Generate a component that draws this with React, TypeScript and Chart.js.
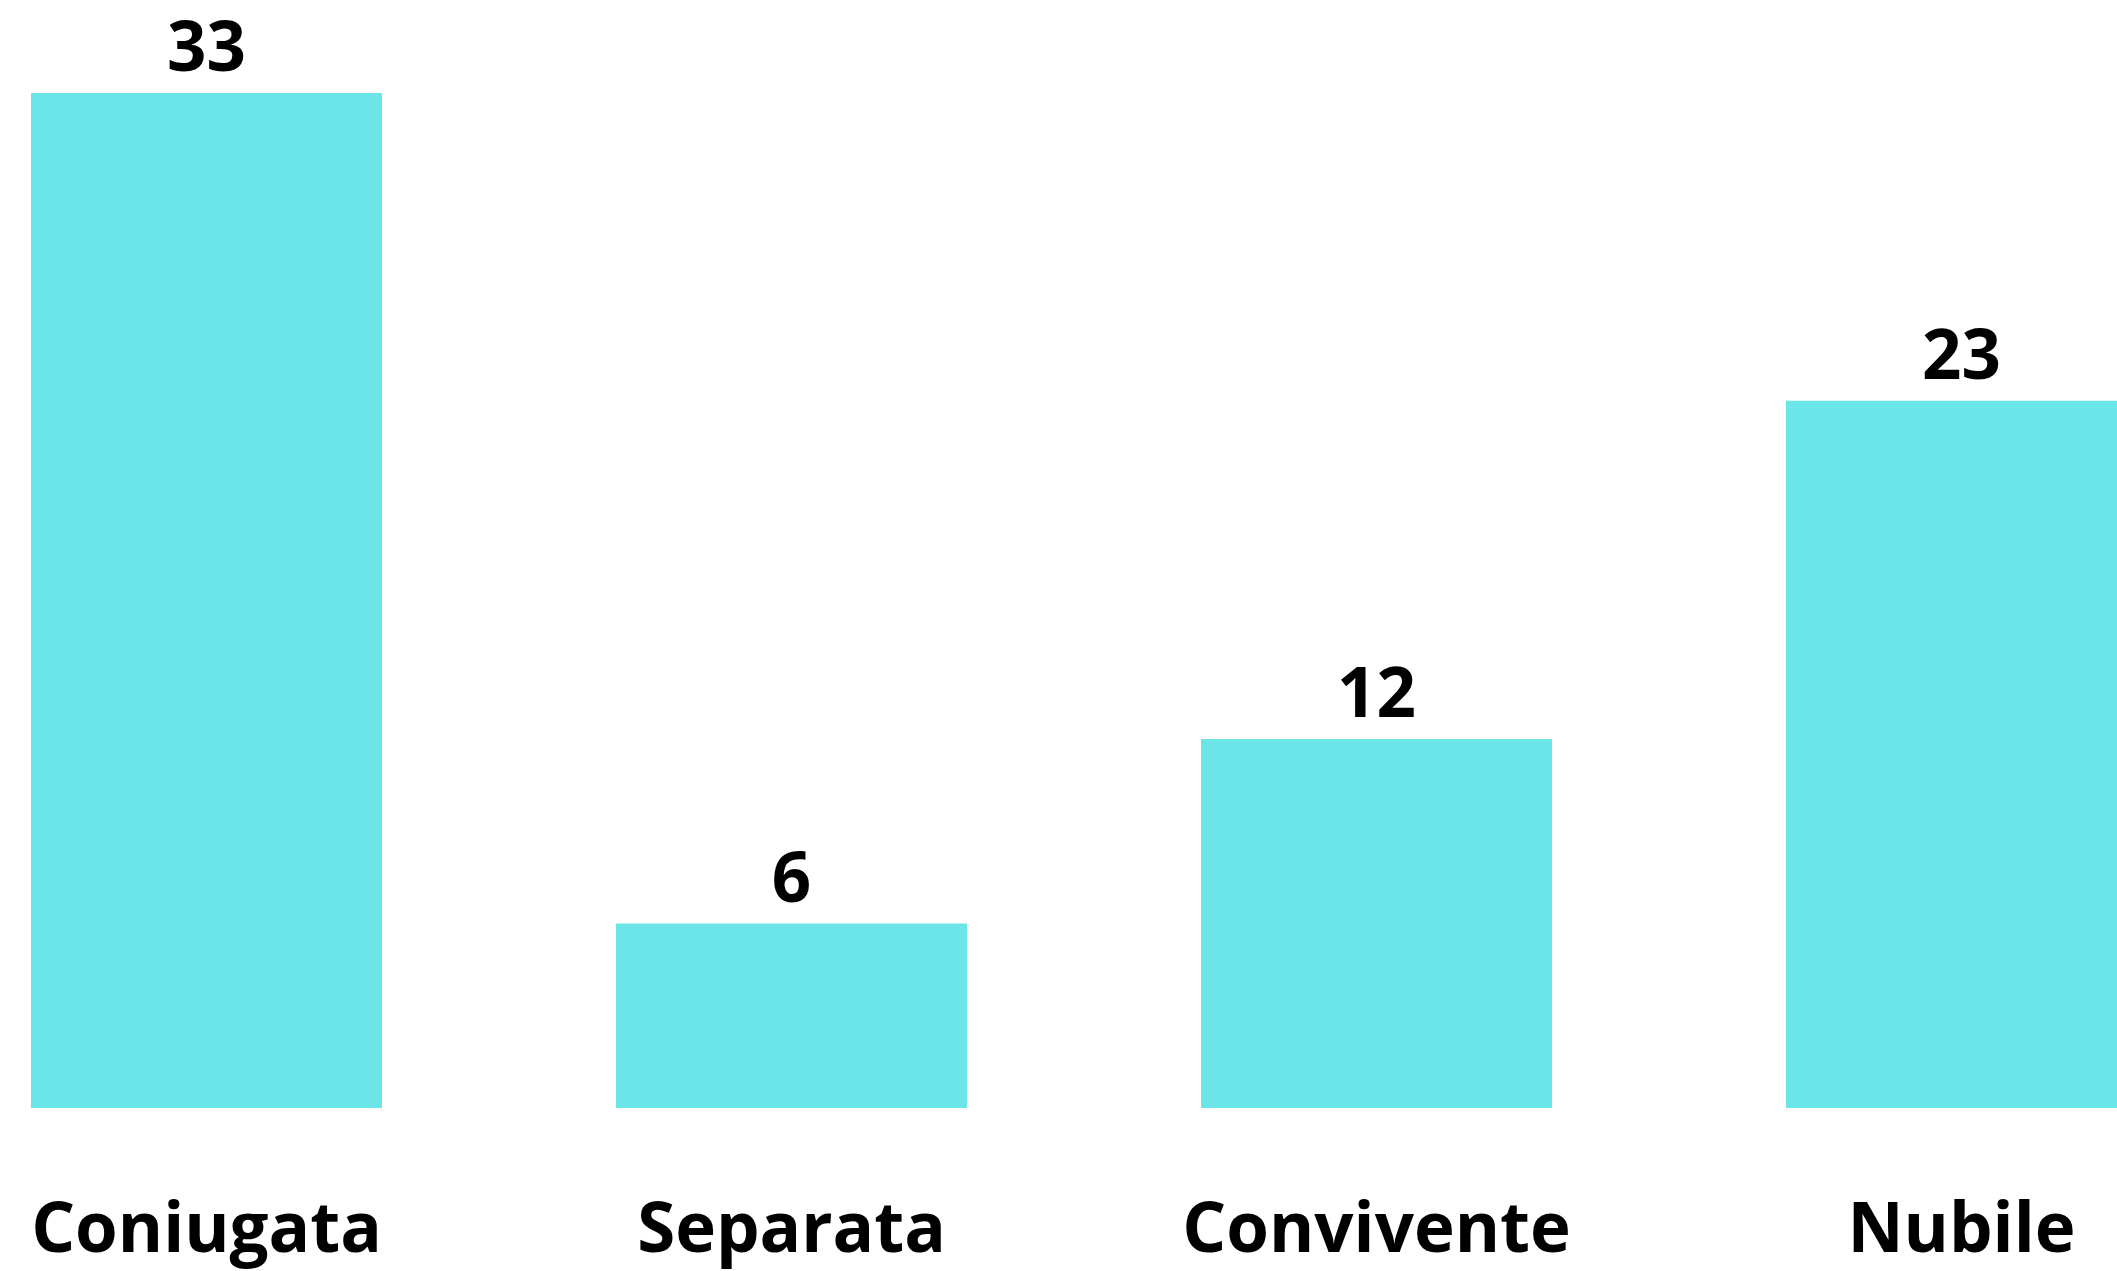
import React, { useEffect, useRef } from "react";
import { Chart, registerables } from "chart.js";

Chart.register(...registerables);

const categories = ["Coniugata", "Separata", "Convivente", "Nubile"];
const values = [33, 6, 12, 23];
const barColor = "#6ce5e8";

const valueLabels = {
  id: "valueLabels",
  afterDatasetsDraw(chart: any) {
    const ctx = chart.ctx;
    const meta = chart.getDatasetMeta(0);
    ctx.save();
    ctx.font = "700 69px 'Open Sans'";
    ctx.fillStyle = "#000";
    ctx.textAlign = "center";
    ctx.textBaseline = "alphabetic";
    meta.data.forEach((bar: any, i: number) => {
      ctx.fillText(String(values[i]), bar.x, bar.y - 22);
    });
    ctx.restore();
  },
};

export default function App() {
  const ref = useRef<HTMLCanvasElement>(null);
  useEffect(() => {
    if (!ref.current) return;
    const chart = new Chart(ref.current, {
      type: "bar",
      data: {
        labels: categories,
        datasets: [
          {
            data: values,
            backgroundColor: barColor,
            borderWidth: 0,
            barPercentage: 0.6,
            categoryPercentage: 1.0,
          },
        ],
      },
      options: {
        animation: false,
        responsive: false,
        layout: { padding: { top: 93, left: 0, right: 0, bottom: 0 } },
        plugins: { legend: { display: false }, tooltip: { enabled: false } },
        scales: {
          x: {
            offset: true,
            grid: { display: false, drawTicks: false },
            border: { display: false },
            ticks: {
              color: "#000",
              padding: 83,
              maxRotation: 0,
              autoSkip: false,
              font: { family: "'Open Sans'", size: 69, weight: "bold" },
            },
          },
          y: { display: false, min: 0, max: 33 },
        },
      },
      plugins: [valueLabels],
    });
    return () => chart.destroy();
  }, []);
  return (
    <div
      style={{
        position: "fixed",
        left: 0,
        top: 0,
        width: 2117,
        height: 1271,
        overflow: "hidden",
        background: "#fff",
      }}
    >
      <canvas
        ref={ref}
        width={2340}
        height={1357}
        style={{ position: "absolute", left: -86, top: 0, width: 2340, height: 1357 }}
      />
    </div>
  );
}
